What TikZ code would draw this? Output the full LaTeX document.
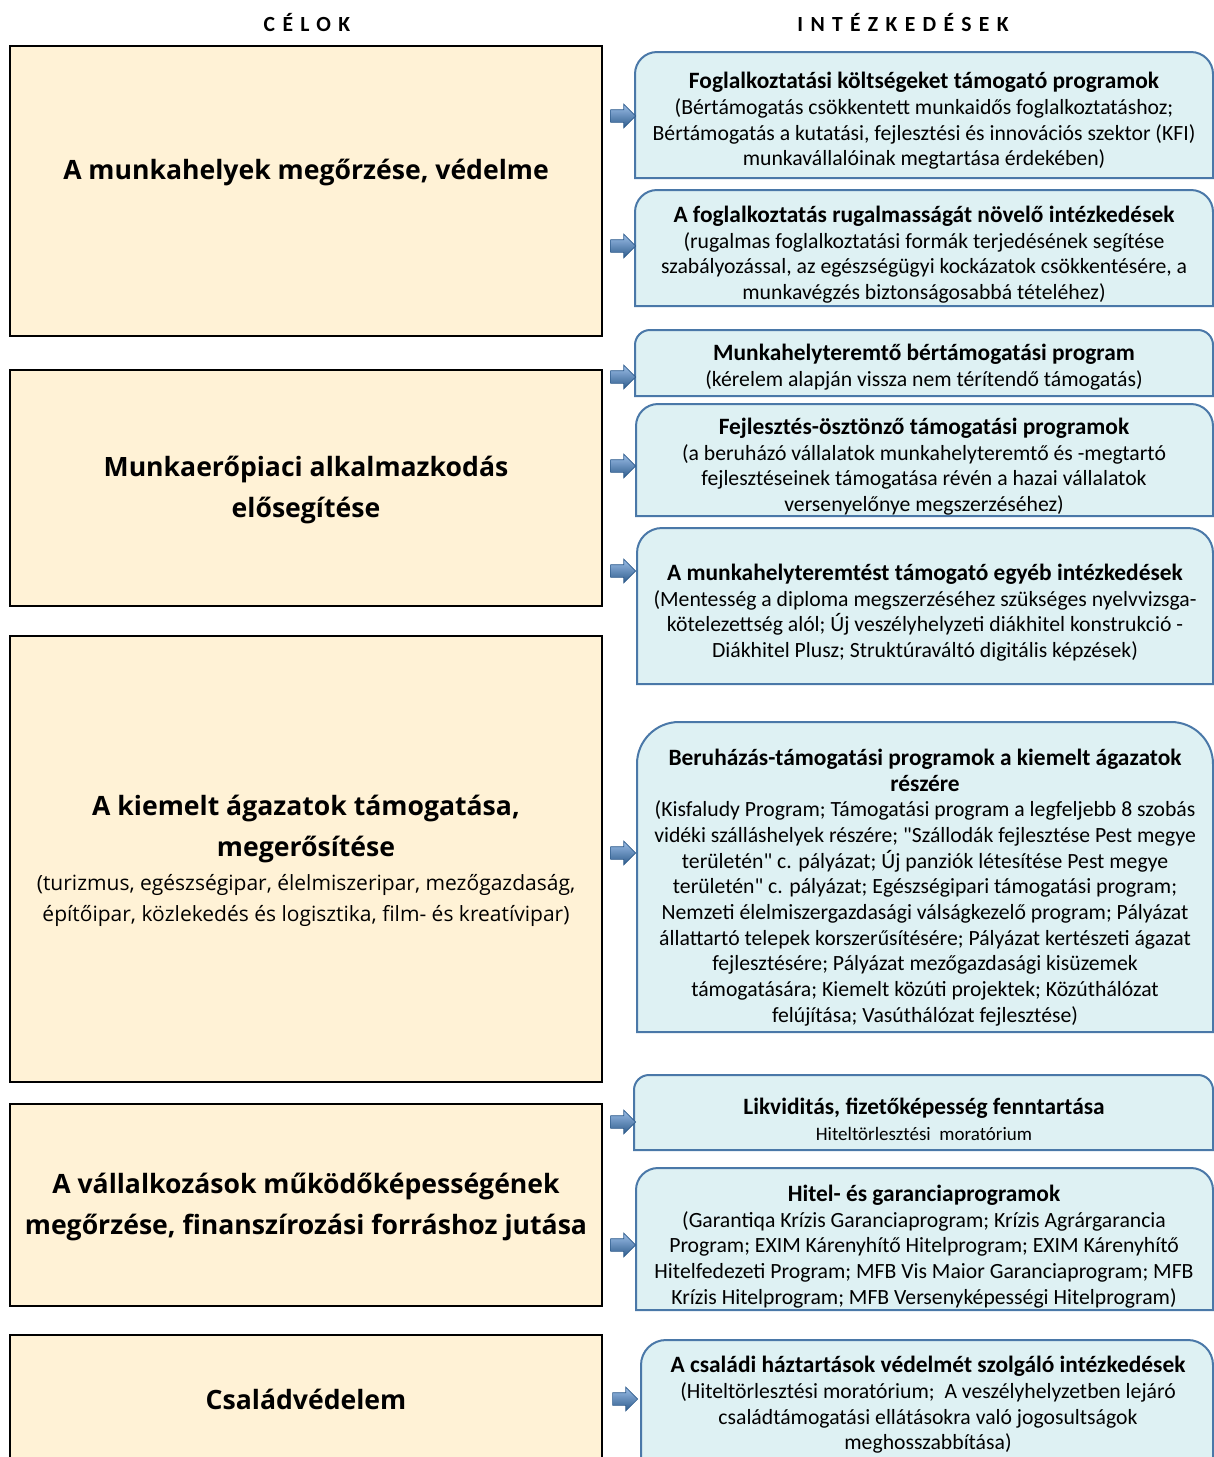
\documentclass[tikz,border=0pt]{standalone}
\usepackage{fontspec}
\setmainfont{Carlito}[Ligatures=TeXOff]
\newfontfamily\celfont{Open Sans}
\newfontfamily\fejfont[LetterSpace=34]{Carlito}
\usetikzlibrary{shapes.arrows}
\definecolor{celfill}{HTML}{FFF2D6}
\definecolor{intfill}{HTML}{DEF1F3}
\definecolor{intkeret}{HTML}{4A78A8}
\definecolor{nyilfel}{HTML}{9CBEE8}
\definecolor{nyille}{HTML}{2E5C8C}
\newcommand\cim[1]{{\fontsize{11.7}{12.85}\selectfont\bfseries #1}}
\tikzset{
  fejlec/.style={font=\fejfont\bfseries\fontsize{10.8}{12}\selectfont},
  cel/.style={draw=black, line width=1.25pt, fill=celfill, inner sep=0pt,
    minimum width=296pt},
  celszoveg/.style={align=center, font=\celfont\bfseries\fontsize{13.3}{20.5}\selectfont},
  celalszoveg/.style={align=center, font=\celfont\fontsize{10.5}{15.5}\selectfont},
  intdoboz/.style={draw=intkeret, line width=1pt, fill=intfill},
  intszoveg/.style={align=center, font=\fontsize{10.85}{12.85}\selectfont},
  nyil/.style={single arrow, draw=nyille, line width=0.3pt, top color=nyilfel,
    bottom color=nyille, inner xsep=0pt, inner ysep=3pt, minimum height=12.5pt,
    single arrow head extend=2.8pt}
}
\begin{document}
\begin{tikzpicture}[x=0.5pt, y=-0.5pt]
\useasboundingbox (0,0) rectangle (1214,1457);
% fejlecek
\node[fejlec] (celok) at (307,22) {CÉLOK};
\node[fejlec] (intezkedesek) at (903,22) {INTÉZKEDÉSEK};

% celok
\node[cel, minimum height=145pt] (c1) at (306,191) {};
\node[celszoveg] (c1t) at (306,172) {A munkahelyek megőrzése, védelme};
\node[cel, minimum height=118pt] (c2) at (306,488) {};
\node[celszoveg] (c2t) at (306,489.5) {Munkaerőpiaci alkalmazkodás\\elősegítése};
\node[cel, minimum height=223pt] (c3) at (306,859) {};
\node[celszoveg] (c3t) at (306,828.5) {A kiemelt ágazatok támogatása,\\megerősítése};
\node[celalszoveg] (c3a) at (306,900.5) {(turizmus, egészségipar, élelmiszeripar, mezőgazdaság,\\építőipar, közlekedés és logisztika, film- és kreatívipar)};
\node[cel, minimum height=101pt] (c4) at (306,1205) {};
\node[celszoveg] (c4t) at (306,1206.5) {A vállalkozások működőképességének\\megőrzése, finanszírozási forráshoz jutása};
\node[cel, minimum height=70pt] (c5) at (306,1405) {};
\node[celszoveg] (c5t) at (306,1399) {Családvédelem};

% intezkedesek
\draw[intdoboz] (635,178) [rounded corners=11pt] -- (635,52) -- (1213,52) [sharp corners] -- (1213,178) -- cycle;
\node[intszoveg] (i1) at (924,121) {\cim{Foglalkoztatási költségeket támogató programok}\\
(Bértámogatás csökkentett munkaidős foglalkoztatáshoz;\\
Bértámogatás a kutatási, fejlesztési és innovációs szektor (KFI)\\
munkavállalóinak megtartása érdekében)};

\draw[intdoboz] (635,306) [rounded corners=11pt] -- (635,190) -- (1213,190) [sharp corners] -- (1213,306) -- cycle;
\node[intszoveg] (i2) at (924,254.5) {\cim{A foglalkoztatás rugalmasságát növelő intézkedések}\\
(rugalmas foglalkoztatási formák terjedésének segítése\\
szabályozással, az egészségügyi kockázatok csökkentésére, a\\
munkavégzés biztonságosabbá tételéhez)};

\draw[intdoboz] (635,396) [rounded corners=7.5pt] -- (635,330) -- (1213,330) [sharp corners] -- (1213,396) -- cycle;
\node[intszoveg] (i3) at (924,367) {\cim{Munkahelyteremtő bértámogatási program}\\
(kérelem alapján vissza nem térítendő támogatás)};

\draw[intdoboz] (636,516) [rounded corners=11pt] -- (636,404) -- (1213,404) [sharp corners] -- (1213,516) -- cycle;
\node[intszoveg] (i4) at (924,466.5) {\cim{Fejlesztés-ösztönző támogatási programok}\\
(a beruházó vállalatok munkahelyteremtő és -megtartó\\
fejlesztéseinek támogatása révén a hazai vállalatok\\
versenyelőnye megszerzéséhez)};

\draw[intdoboz] (637,684) [rounded corners=12.5pt] -- (637,528) -- (1213,528) [sharp corners] -- (1213,684) -- cycle;
\node[intszoveg] (i5) at (925,612.5) {\cim{A munkahelyteremtést támogató egyéb intézkedések}\\
(Mentesség a diploma megszerzéséhez szükséges nyelvvizsga-\\
kötelezettség alól; Új veszélyhelyzeti diákhitel konstrukció -\\
Diákhitel Plusz; Struktúraváltó digitális képzések)};

\draw[intdoboz] (637,1032) [rounded corners=21pt] -- (637,722) -- (1213,722) [sharp corners] -- (1213,1032) -- cycle;
\node[intszoveg] (i6) at (925,887.5) {\cim{Beruházás-támogatási programok a kiemelt ágazatok}\\
\cim{részére}\\
(Kisfaludy Program; Támogatási program a legfeljebb 8 szobás\\
vidéki szálláshelyek részére; "Szállodák fejlesztése Pest megye\\
területén" c. pályázat; Új panziók létesítése Pest megye\\
területén" c. pályázat; Egészségipari támogatási program;\\
Nemzeti élelmiszergazdasági válságkezelő program; Pályázat\\
állattartó telepek korszerűsítésére; Pályázat kertészeti ágazat\\
fejlesztésére; Pályázat mezőgazdasági kisüzemek\\
támogatására; Kiemelt közúti projektek; Közúthálózat\\
felújítása; Vasúthálózat fejlesztése)};

\draw[intdoboz] (634,1150) [rounded corners=7.5pt] -- (634,1075) -- (1213,1075) [sharp corners] -- (1213,1150) -- cycle;
\node[intszoveg] (i7) at (924,1119) {\cim{Likviditás, fizetőképesség fenntartása}\\
{\fontsize{9.5}{12.85}\selectfont Hiteltörlesztési\ \ moratórium}};

\draw[intdoboz] (636,1310) [rounded corners=11pt] -- (636,1168) -- (1213,1168) [sharp corners] -- (1213,1310) -- cycle;
\node[intszoveg] (i8) at (924,1246.5) {\cim{Hitel- és garanciaprogramok}\\
(Garantiqa Krízis Garanciaprogram; Krízis Agrárgarancia\\
Program; EXIM Kárenyhítő Hitelprogram; EXIM Kárenyhítő\\
Hitelfedezeti Program; MFB Vis Maior Garanciaprogram; MFB\\
Krízis Hitelprogram; MFB Versenyképességi Hitelprogram)};

\draw[intdoboz] (641,1480) [rounded corners=12.5pt] -- (641,1340) -- (1213,1340) [sharp corners] -- (1213,1480) -- cycle;
\node[intszoveg] (i9) at (928,1405) {\cim{A családi háztartások védelmét szolgáló intézkedések}\\
(Hiteltörlesztési moratórium;\ \ A veszélyhelyzetben lejáró\\
családtámogatási ellátásokra való jogosultságok\\
meghosszabbítása)};

% nyilak
\node[nyil] (n1) at (620,116) {};
\node[nyil] (n2) at (620,246) {};
\node[nyil] (n3) at (620,377) {};
\node[nyil] (n4) at (620,466) {};
\node[nyil] (n5) at (620,571) {};
\node[nyil] (n6) at (620,853) {};
\node[nyil] (n7) at (620,1122) {};
\node[nyil] (n8) at (620,1245) {};
\node[nyil] (n9) at (622,1399) {};
\end{tikzpicture}
\end{document}
